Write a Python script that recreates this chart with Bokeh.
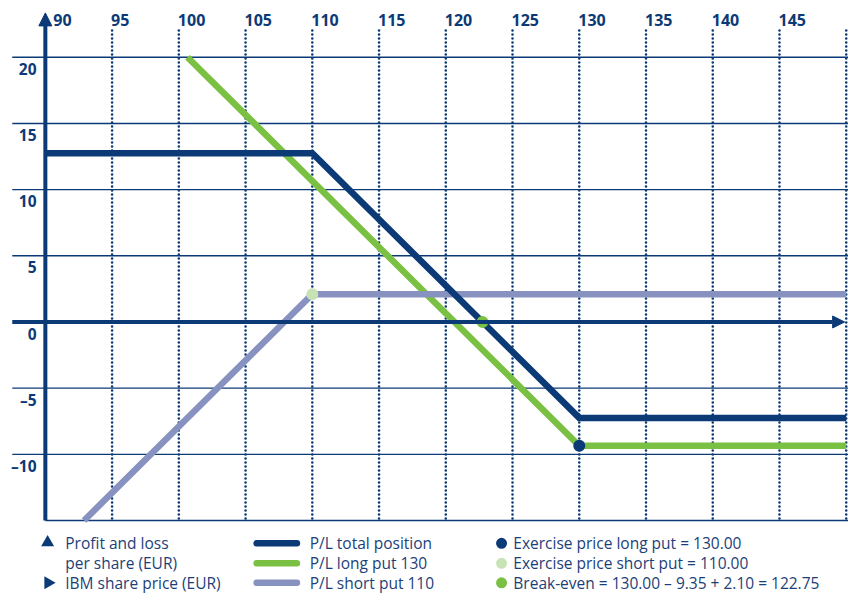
from bokeh.plotting import figure
from bokeh.models import Range1d, ColumnDataSource, Arrow, NormalHead
from bokeh.layouts import column
from bokeh.embed import file_html
from bokeh.resources import INLINE
from bokeh.core.properties import value

# ---------------- data ----------------
x_ticks = [90, 95, 100, 105, 110, 115, 120, 125, 130, 135, 140, 145]
x_tick_labels = ["90", "95", "100", "105", "110", "115", "120", "125", "130", "135", "140", "145"]
x_grid = [95, 100, 105, 110, 115, 120, 125, 130, 135, 140, 145, 150]
y_ticks = [20, 15, 10, 5, 0, -5, -10]
y_tick_labels = ["20", "15", "10", "5", "0", "\u20135", "\u201310"]
y_grid = [20, 15, 10, 5, -5, -10]

price_total = [90, 110, 130, 150]
pl_total = [12.75, 12.75, -7.25, -7.25]
price_long = [100.65, 130, 150]
pl_long = [20.0, -9.35, -9.35]
price_short = [92.9, 110, 150]
pl_short = [-15.0, 2.10, 2.10]

ex_long = (130.0, -9.35)
ex_short = (110.0, 2.10)
break_even = (122.75, 0.0)

axis_labels = ["Profit and loss", "per share (EUR)", "IBM share price (EUR)"]
line_labels = ["P/L total position", "P/L long put 130", "P/L short put 110"]
dot_labels = ["Exercise price long put = 130.00",
              "Exercise price short put = 110.00",
              "Break-even = 130.00 \u2013 9.35 + 2.10 = 122.75"]

# ---------------- style ----------------
NAVY = "#0b3a76"
GREEN = "#7ac143"
LAV = "#8792c0"
LGREEN = "#c8e3b3"
TXT = "#1c3f78"
FONT = value("Open Sans")

p = figure(width=848, height=531,
           x_range=Range1d(86.640, 150.17), y_range=Range1d(-15.83, 24.287),
           output_backend="svg", toolbar_location=None,
           x_axis_type=None, y_axis_type=None, min_border=0,
           outline_line_color=None)
p.grid.visible = False

# horizontal grid lines
p.segment(x0=[87.52] * len(y_grid), y0=y_grid, x1=[151] * len(y_grid), y1=y_grid,
          line_color=NAVY, line_width=1.4)
p.segment(x0=[90], y0=[-15], x1=[151], y1=[-15], line_color=NAVY, line_width=1.4)

# vertical dotted lines
p.segment(x0=x_grid, y0=[-14.85] * len(x_grid), x1=x_grid, y1=[22.08] * len(x_grid),
          line_color=NAVY, line_width=2.6, line_dash="0 4", line_cap="round")

# axes with arrows
p.add_layout(Arrow(end=NormalHead(size=12, fill_color=NAVY, line_color=NAVY, line_width=1),
                   x_start=87.52, y_start=0, x_end=149.88, y_end=0,
                   line_color=NAVY, line_width=4))
p.add_layout(Arrow(end=NormalHead(size=13, fill_color=NAVY, line_color=NAVY, line_width=1),
                   x_start=90, y_start=-15, x_end=90, y_end=23.35,
                   line_color=NAVY, line_width=4))

# series
p.line(price_long, pl_long, line_color=GREEN, line_width=6.5, line_join="miter")
p.line(price_short, pl_short, line_color=LAV, line_width=6.5, line_join="miter")
p.line(price_total, pl_total, line_color=NAVY, line_width=6.5, line_join="miter")

p.scatter([ex_long[0]], [ex_long[1]], size=12, fill_color=NAVY, line_color=None)
p.scatter([ex_short[0]], [ex_short[1]], size=12, fill_color=LGREEN, line_color=None)
p.scatter([break_even[0]], [break_even[1]], size=12, fill_color=GREEN, line_color=None)

# tick labels
xoff = [8 if v == 90 else -1 for v in x_ticks]
p.text(x="x", y="y", text="t", x_offset="o",
       source=ColumnDataSource(dict(x=x_ticks, y=[22.82] * len(x_ticks), t=x_tick_labels, o=xoff)),
       text_font=FONT, text_font_style="bold", text_font_size="16px",
       text_color=NAVY, text_align="left", text_baseline="middle")
p.text(x=[89.34] * len(y_ticks), y=[v - 0.88 for v in y_ticks], text=y_tick_labels,
       text_font=FONT, text_font_style="bold", text_font_size="15.5px",
       text_color=NAVY, text_align="right", text_baseline="middle")

# ---------------- legend (reference pixel frame) ----------------
leg = figure(width=848, height=62, x_range=Range1d(0, 864), y_range=Range1d(609, 545.3),
             output_backend="svg", toolbar_location=None,
             x_axis_type=None, y_axis_type=None, min_border=0,
             outline_line_color=None)
leg.grid.visible = False
rows = [557.5, 578.0, 598.0]
FS = "15.5px"

leg.scatter([48], [rows[0] - 1], marker="triangle", size=13, fill_color=NAVY, line_color=None)
leg.scatter([48.5], [rows[2]], marker="triangle", size=13, angle=-1.5708,
            fill_color=NAVY, line_color=None)
leg.text(x=[66] * 3, y=rows, text=axis_labels, text_font=FONT, text_font_size=FS,
         text_color=TXT, text_align="left", text_baseline="middle")

for yy, c in zip(rows, [NAVY, GREEN, LAV]):
    leg.line([261, 302], [yy, yy], line_color=c, line_width=6.5, line_cap="round")
leg.text(x=[315] * 3, y=rows, text=line_labels, text_font=FONT, text_font_size=FS,
         text_color=TXT, text_align="left", text_baseline="middle")

leg.scatter([510.5] * 3, rows, size=11, fill_color=[NAVY, LGREEN, GREEN], line_color=None)
leg.text(x=[522.5] * 3, y=rows, text=dot_labels, text_font=FONT, text_font_size=FS,
         text_color=TXT, text_align="left", text_baseline="middle")

layout = column(p, leg, spacing=0)
open("out.html", "w").write(file_html(layout, INLINE))
